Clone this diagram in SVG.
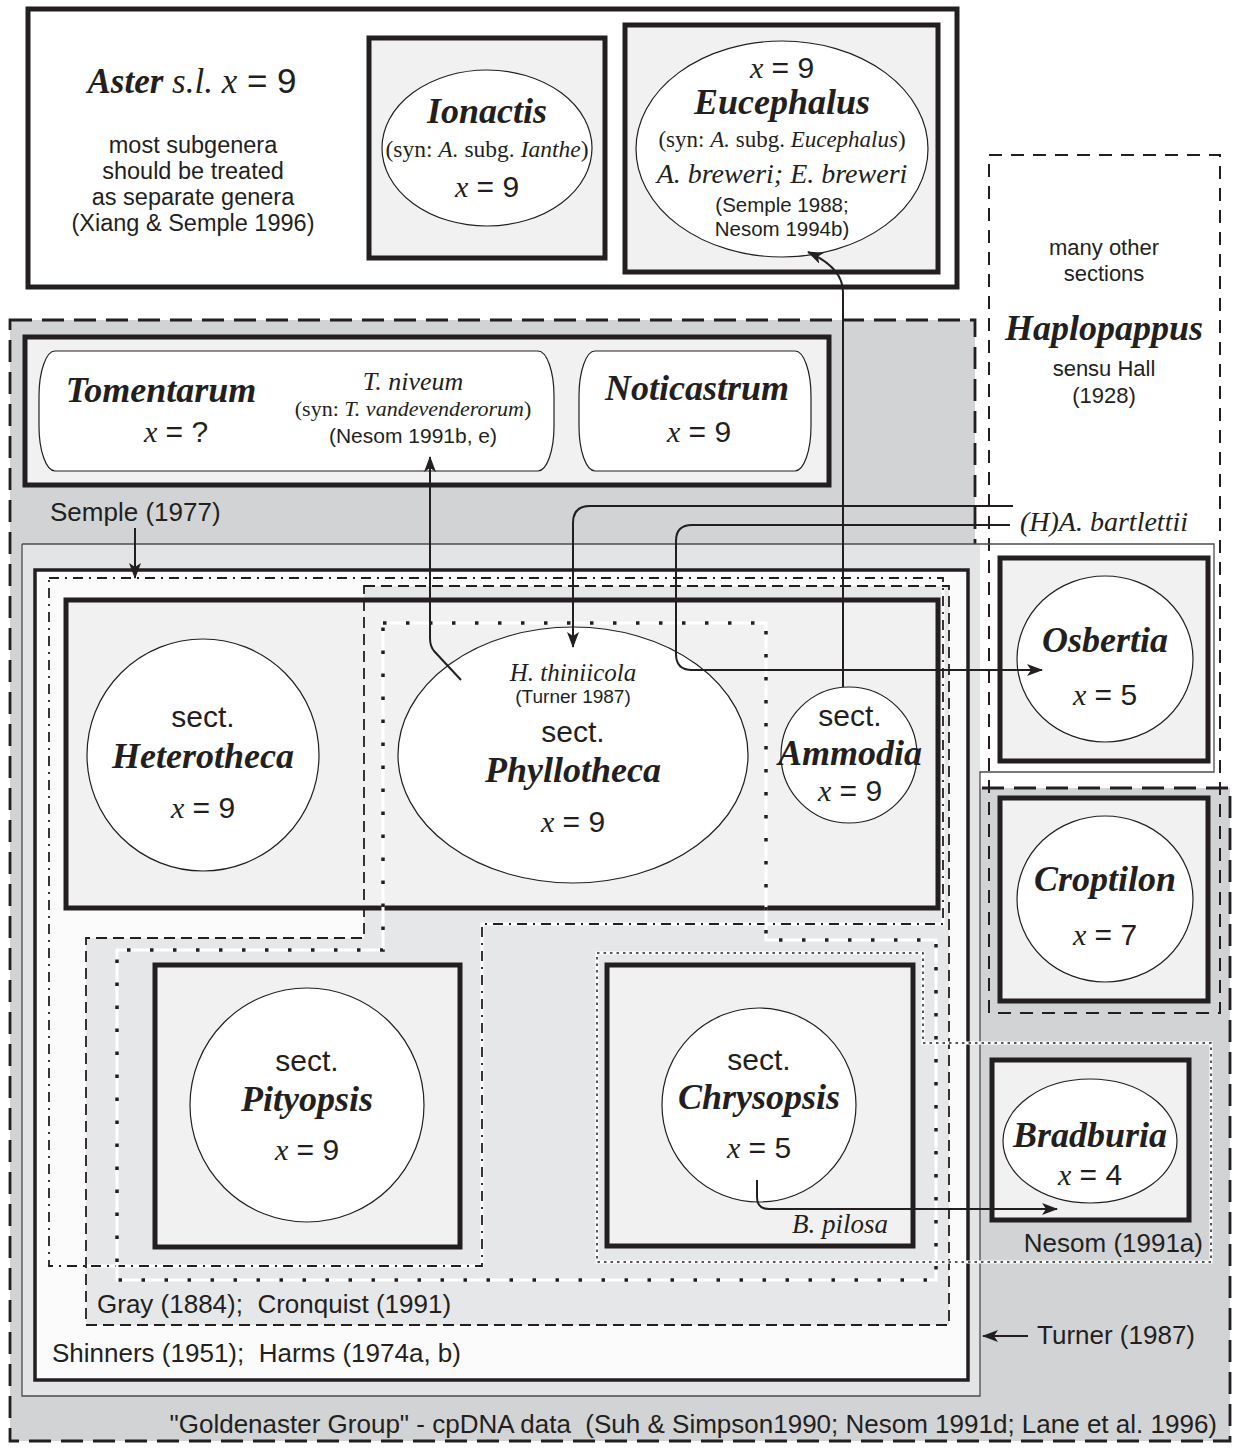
<svg xmlns="http://www.w3.org/2000/svg" width="1236" height="1449" viewBox="0 0 1236 1449">
<defs>
<style>
text{fill:#231f20;font-family:"Liberation Sans",Arial,sans-serif}
.sv{font-family:"Liberation Serif","Times New Roman",serif}
.gn{font-family:"Liberation Serif","Times New Roman",serif;font-weight:bold;font-style:italic;font-size:36px}
.it{font-family:"Liberation Serif","Times New Roman",serif;font-style:italic}
.xs{font-size:30px}
.lab{font-size:26px}
.sect{font-size:30px}
.box{fill:#f1f1f2;stroke:#231f20;stroke-width:5}
.ell{fill:#fff;stroke:#231f20;stroke-width:1.2}
.rnd{fill:#fff;stroke:#231f20;stroke-width:1.2}
.con{fill:none;stroke:#231f20;stroke-width:2}
.halo{fill:none;stroke:#fff;stroke-width:3}
</style>
<marker id="ah" markerWidth="16" markerHeight="12" refX="15" refY="6" orient="auto" markerUnits="userSpaceOnUse">
<path d="M0,0 L16,6 L0,12 L4,6 Z" fill="#231f20"/>
</marker>
</defs>
<rect width="1236" height="1449" fill="#fff"/>

<g id="goldenaster-group">
<polygon points="10,320 975,320 975,788 1230,788 1230,1441 10,1441" fill="#d1d3d4" stroke="#231f20" stroke-width="2.8" stroke-dasharray="22 10"/>
<text class="lab" x="1217" y="1433" text-anchor="end">"Goldenaster Group" - cpDNA data&#160; (Suh &amp; Simpson1990; Nesom 1991d; Lane et al. 1996)</text>
</g>

<g id="haplopappus">
<rect x="989" y="155" width="231" height="858" fill="none" stroke="#231f20" stroke-width="2" stroke-dasharray="13 9"/>
<text x="1104" y="255" text-anchor="middle" font-size="22">many other</text>
<text x="1104" y="281" text-anchor="middle" font-size="22">sections</text>
<text class="gn" x="1104" y="340" text-anchor="middle">Haplopappus</text>
<text x="1104" y="376" text-anchor="middle" font-size="22">sensu Hall</text>
<text x="1104" y="403" text-anchor="middle" font-size="22">(1928)</text>
</g>

<g id="aster">
<rect x="28" y="9" width="929" height="278" fill="#fff" stroke="#231f20" stroke-width="5"/>
<text x="192" y="93" text-anchor="middle" font-size="35"><tspan class="gn" style="font-size:35px">Aster</tspan><tspan class="it"> s.l. x</tspan> = 9</text>
<text x="193" y="153" text-anchor="middle" font-size="23.5">most subgenera</text>
<text x="193" y="179" text-anchor="middle" font-size="23.5">should be treated</text>
<text x="193" y="205" text-anchor="middle" font-size="23.5">as separate genera</text>
<text x="193" y="231" text-anchor="middle" font-size="23.5">(Xiang &amp; Semple 1996)</text>
</g>

<g id="ionactis">
<rect class="box" x="369" y="38" width="236" height="220"/>
<ellipse class="ell" cx="487" cy="148" rx="105" ry="78"/>
<text class="gn" x="487" y="123" text-anchor="middle">Ionactis</text>
<text class="sv" x="487" y="157" text-anchor="middle" font-size="23.5">(syn: <tspan class="it">A.</tspan> subg. <tspan class="it">Ianthe</tspan>)</text>
<text class="xs" x="487" y="197" text-anchor="middle"><tspan class="it">x</tspan> = 9</text>
</g>

<g id="eucephalus">
<rect class="box" x="625" y="25" width="313" height="247"/>
<ellipse class="ell" cx="782" cy="149" rx="146" ry="108"/>
<text class="xs" x="782" y="78" text-anchor="middle"><tspan class="it">x</tspan> = 9</text>
<text class="gn" x="782" y="114" text-anchor="middle">Eucephalus</text>
<text class="sv" x="782" y="147" text-anchor="middle" font-size="23">(syn: <tspan class="it">A.</tspan> subg. <tspan class="it">Eucephalus</tspan>)</text>
<text class="it" x="782" y="183" text-anchor="middle" font-size="28">A. breweri; E. breweri</text>
<text x="782" y="212" text-anchor="middle" font-size="20.5">(Semple 1988;</text>
<text x="782" y="236" text-anchor="middle" font-size="20.5">Nesom 1994b)</text>
</g>

<g id="tomentarum-noticastrum">
<rect class="box" x="25" y="337" width="804" height="148"/>
</g>
<g id="tomentarum">
<rect class="rnd" x="39" y="351" width="515" height="120" rx="16" ry="45"/>
<text class="gn" x="161" y="402" text-anchor="middle">Tomentarum</text>
<text class="xs" x="176" y="442" text-anchor="middle"><tspan class="it">x</tspan> = ?</text>
<text class="it" x="413" y="390" text-anchor="middle" font-size="26">T. niveum</text>
<text class="sv" x="413" y="416" text-anchor="middle" font-size="22">(syn: <tspan class="it">T. vandevenderorum</tspan>)</text>
<text x="413" y="443" text-anchor="middle" font-size="21">(Nesom 1991b, e)</text>
</g>
<g id="noticastrum">
<rect class="rnd" x="579" y="351" width="232" height="120" rx="16" ry="45"/>
<text class="gn" x="697" y="400" text-anchor="middle">Noticastrum</text>
<text class="xs" x="699" y="442" text-anchor="middle"><tspan class="it">x</tspan> = 9</text>
</g>

<g id="semple-1977">
<text class="lab" x="50" y="521">Semple (1977)</text>
</g>

<g id="turner-1987">
<rect x="22" y="544" width="958" height="852" fill="#e3e4e5"/>
<polyline points="22,544 1214,544 1214,772 980,772 980,1396 22,1396 22,544" fill="none" stroke="#4d4d4f" stroke-width="1.3"/>
<text class="lab" x="1037" y="1344">Turner (1987)</text>
</g>

<g id="shinners-harms">
<rect x="35" y="570" width="933" height="810" fill="#fbfbfb" stroke="#231f20" stroke-width="3.5"/>
<text class="lab" x="52" y="1362">Shinners (1951);&#160; Harms (1974a, b)</text>
</g>

<g id="gray-cronquist-fill">
<polygon points="364,586 949,586 949,1325 86,1325 86,938 364,938" fill="#e6e7e8"/>
</g>

<g id="heterotheca-group">
<rect class="box" x="66" y="600" width="872" height="308"/>
</g>
<g id="pityopsis-box">
<rect class="box" x="155" y="965" width="305" height="282"/>
</g>
<g id="chrysopsis-box">
<rect class="box" x="607" y="965" width="306" height="281"/>
</g>
<g id="osbertia">
<rect class="box" x="1000" y="558" width="208" height="203"/>
<ellipse class="ell" cx="1105" cy="659" rx="88" ry="83"/>
<text class="gn" x="1105" y="652" text-anchor="middle">Osbertia</text>
<text class="xs" x="1105" y="705" text-anchor="middle"><tspan class="it">x</tspan> = 5</text>
</g>
<g id="croptilon">
<rect class="box" x="1000" y="798" width="208" height="203"/>
<ellipse class="ell" cx="1105" cy="899" rx="88" ry="83"/>
<text class="gn" x="1105" y="891" text-anchor="middle">Croptilon</text>
<text class="xs" x="1105" y="945" text-anchor="middle"><tspan class="it">x</tspan> = 7</text>
</g>
<g id="bradburia">
<rect class="box" x="992" y="1060" width="197" height="160"/>
<ellipse class="ell" cx="1090" cy="1141" rx="87" ry="62"/>
<text class="gn" x="1090" y="1147" text-anchor="middle">Bradburia</text>
<text class="xs" x="1090" y="1185" text-anchor="middle"><tspan class="it">x</tspan> = 4</text>
</g>

<g id="boundaries">
<polygon class="halo" points="49,578 943,578 943,924 482,924 482,1266 49,1266"/>
<polygon points="49,578 943,578 943,924 482,924 482,1266 49,1266" fill="none" stroke="#231f20" stroke-width="1.8" stroke-dasharray="10 6 2 6"/>
<polygon points="364,586 949,586 949,1325 86,1325 86,938 364,938" fill="none" stroke="#231f20" stroke-width="1.8" stroke-dasharray="11 6"/>
<polygon class="halo" points="383,623 766,623 766,940 936,940 936,1280 117,1280 117,950 383,950"/>
<polygon points="383,623 766,623 766,940 936,940 936,1280 117,1280 117,950 383,950" fill="none" stroke="#231f20" stroke-width="3.5" stroke-dasharray="3.5 19.5"/>
<polygon class="halo" points="597,953 923,953 923,1043 1211,1043 1211,1262 597,1262"/>
<polygon points="597,953 923,953 923,1043 1211,1043 1211,1262 597,1262" fill="none" stroke="#231f20" stroke-width="1.5" stroke-dasharray="2.5 4"/>
<text class="lab" x="97" y="1313">Gray (1884);&#160; Cronquist (1991)</text>
<text class="lab" x="1203" y="1252" text-anchor="end">Nesom (1991a)</text>
</g>

<g id="heterotheca">
<circle class="ell" cx="203" cy="755" r="116"/>
<text class="sect" x="203" y="727" text-anchor="middle">sect.</text>
<text class="gn" x="203" y="768" text-anchor="middle">Heterotheca</text>
<text class="xs" x="203" y="818" text-anchor="middle"><tspan class="it">x</tspan> = 9</text>
</g>
<g id="phyllotheca">
<ellipse class="ell" cx="573" cy="755" rx="175" ry="128"/>
<text class="it" x="573" y="681" text-anchor="middle" font-size="25">H. thiniicola</text>
<text x="573" y="703" text-anchor="middle" font-size="19">(Turner 1987)</text>
<text class="sect" x="573" y="742" text-anchor="middle">sect.</text>
<text class="gn" x="573" y="782" text-anchor="middle">Phyllotheca</text>
<text class="xs" x="573" y="832" text-anchor="middle"><tspan class="it">x</tspan> = 9</text>
</g>
<g id="ammodia">
<circle class="ell" cx="849" cy="755" r="68"/>
<text class="sect" x="850" y="726" text-anchor="middle">sect.</text>
<text class="gn" x="850" y="765" text-anchor="middle">Ammodia</text>
<text class="xs" x="850" y="801" text-anchor="middle"><tspan class="it">x</tspan> = 9</text>
</g>
<g id="pityopsis">
<circle class="ell" cx="307" cy="1105" r="117"/>
<text class="sect" x="307" y="1071" text-anchor="middle">sect.</text>
<text class="gn" x="307" y="1111" text-anchor="middle">Pityopsis</text>
<text class="xs" x="307" y="1160" text-anchor="middle"><tspan class="it">x</tspan> = 9</text>
</g>
<g id="chrysopsis">
<circle class="ell" cx="759" cy="1105" r="97"/>
<text class="sect" x="759" y="1070" text-anchor="middle">sect.</text>
<text class="gn" x="759" y="1109" text-anchor="middle">Chrysopsis</text>
<text class="xs" x="759" y="1158" text-anchor="middle"><tspan class="it">x</tspan> = 5</text>
<text class="it" x="888" y="1233" text-anchor="end" font-size="27">B. pilosa</text>
</g>

<g id="bartlettii">
<text class="it" x="1020" y="531" font-size="28">(H)A. bartlettii</text>
</g>

<g id="connectors">
<path class="con" d="M843,687 V292 C843,274 828,261 808,252" marker-end="url(#ah)"/>
<path class="con" d="M461,680 L434,651 Q430,646 430,638 V457" marker-end="url(#ah)"/>
<path class="con" d="M1013,506 H590 Q573,506 573,523 V647" marker-end="url(#ah)"/>
<path class="con" d="M1010,525 H692 Q676,525 676,541 V654 Q676,670 692,670 H1042" marker-end="url(#ah)"/>
<path class="con" d="M757,1180 V1197 Q757,1209 769,1209 H1057" marker-end="url(#ah)"/>
<path class="con" d="M135,528 V578" marker-end="url(#ah)"/>
<path class="con" d="M1028,1336 H983" marker-end="url(#ah)"/>
</g>
</svg>
